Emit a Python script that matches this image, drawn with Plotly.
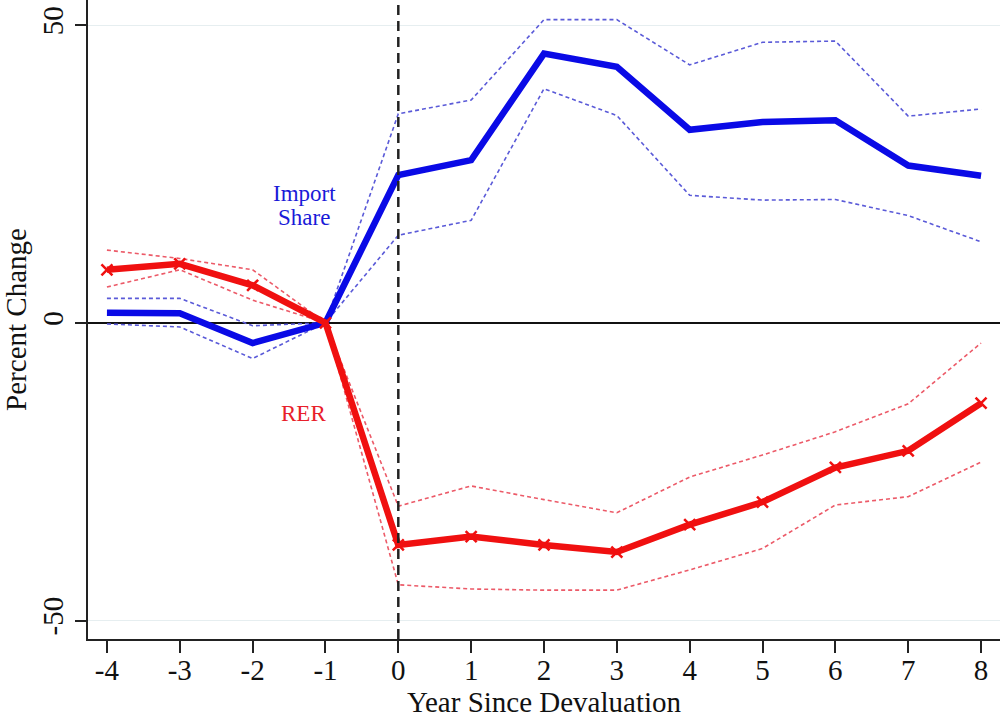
import plotly.graph_objects as go

years = [-4, -3, -2, -1, 0, 1, 2, 3, 4, 5, 6, 7, 8]

import_share = [1.7, 1.6, -3.4, 0, 24.8, 27.3, 45.2, 43.0, 32.4, 33.7, 34.0, 26.4, 24.7]
import_upper = [4.1, 4.1, -0.5, 0, 35.1, 37.4, 50.9, 50.9, 43.3, 47.1, 47.3, 34.7, 35.9]
import_lower = [-0.2, -0.7, -6.0, 0, 14.7, 17.2, 39.3, 34.8, 21.4, 20.6, 20.7, 18.0, 13.6]

rer = [8.9, 9.9, 6.3, 0, -37.3, -35.9, -37.3, -38.5, -33.9, -30.1, -24.3, -21.5, -13.5]
rer_upper = [12.2, 10.8, 8.9, 0, -30.8, -27.4, -29.7, -31.9, -25.9, -22.2, -18.3, -13.6, -3.4]
rer_lower = [6.0, 8.9, 3.8, 0, -44.0, -44.7, -44.9, -44.9, -41.5, -37.9, -30.6, -29.2, -23.4]

x_ticks = list(range(-4, 9))
y_ticks = [-50, 0, 50]

FONT = "Liberation Serif, Times New Roman, serif"
BLUE = "#0a0ae6"
BLUE_CI = "#5a5ad8"
RED = "#f01010"
RED_CI = "#ec5a68"

fig = go.Figure()

fig.add_trace(go.Scatter(x=years, y=import_upper, mode="lines",
                         line=dict(color=BLUE_CI, width=1.6, dash="4px,3px"), showlegend=False))
fig.add_trace(go.Scatter(x=years, y=import_lower, mode="lines",
                         line=dict(color=BLUE_CI, width=1.6, dash="4px,3px"), showlegend=False))
fig.add_trace(go.Scatter(x=years, y=rer_upper, mode="lines",
                         line=dict(color=RED_CI, width=1.6, dash="4px,3px"), showlegend=False))
fig.add_trace(go.Scatter(x=years, y=rer_lower, mode="lines",
                         line=dict(color=RED_CI, width=1.6, dash="4px,3px"), showlegend=False))
fig.add_trace(go.Scatter(x=years, y=import_share, mode="lines",
                         line=dict(color=BLUE, width=6.5), showlegend=False))
fig.add_trace(go.Scatter(x=years, y=rer, mode="lines+markers",
                         line=dict(color=RED, width=6.5),
                         marker=dict(symbol="x-thin", size=11, color=RED,
                                     line=dict(color=RED, width=2.5)),
                         showlegend=False))

fig.add_vline(x=0, line=dict(color="#222222", width=2.5, dash="10px,6px"))

fig.add_annotation(x=-1.29, y=21.7, text="Import", showarrow=False,
                   font=dict(family=FONT, size=23, color="#1a1ad8"))
fig.add_annotation(x=-1.29, y=17.7, text="Share", showarrow=False,
                   font=dict(family=FONT, size=23, color="#1a1ad8"))
fig.add_annotation(x=-1.3, y=-15.2, text="RER", showarrow=False,
                   font=dict(family=FONT, size=23, color="#e8202a"))

fig.update_layout(
    width=1000, height=727,
    margin=dict(l=88, r=0, t=0, b=88),
    paper_bgcolor="white", plot_bgcolor="white",
    font=dict(family=FONT, size=29, color="#111111"),
    xaxis=dict(range=[-4.26, 8.26], tickvals=x_ticks, ticktext=[str(v) for v in x_ticks],
               automargin=False, ticklabelstandoff=-8,
               ticks="outside", ticklen=12, tickwidth=2, tickcolor="#222222",
               showline=True, linecolor="#222222", linewidth=2, showgrid=False, zeroline=False,
               title=dict(text="Year Since Devaluation", standoff=0, font=dict(size=29)),
               tickfont=dict(size=29)),
    yaxis=dict(range=[-53.1, 54.2], tickvals=y_ticks, ticktext=[str(v) for v in y_ticks],
               tickangle=-90, automargin=False,
               ticks="outside", ticklen=11, tickwidth=2, tickcolor="#222222",
               showline=True, linecolor="#222222", linewidth=2,
               showgrid=True, gridcolor="#e6eef0", gridwidth=1,
               zeroline=True, zerolinecolor="#111111", zerolinewidth=2,
               title=dict(text="Percent Change", standoff=8, font=dict(size=29)),
               tickfont=dict(size=29)),
)

fig.write_html("out.html", config={"displayModeBar": False},
               post_script="document.body.style.margin='0';document.body.style.padding='0';")
